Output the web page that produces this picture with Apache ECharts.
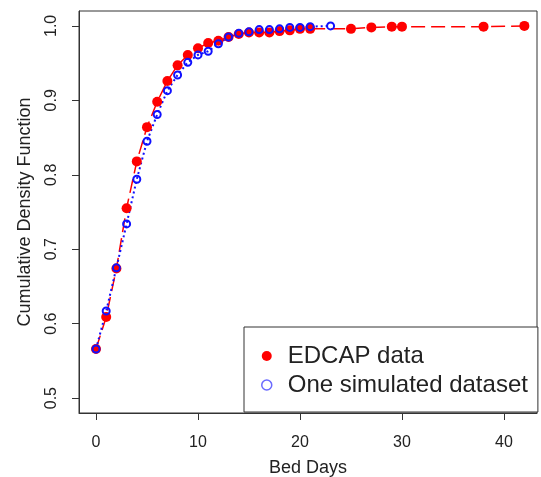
<!DOCTYPE html>
<html><head><meta charset="utf-8">
<script src="https://cdn.jsdelivr.net/npm/echarts@6/dist/echarts.min.js"></script>
<style>html,body{margin:0;padding:0;background:#fff}#c{width:541px;height:477px}</style>
</head><body><div id="c"></div>
<script>
const edcapX = [0,1,2,3,4,5,6,7,8,9,10,11,12,13,14,15,16,17,18,19,20,21,25,27,29,30,38,42];
const edcapY = [0.566,0.609,0.674,0.755,0.818,0.864,0.898,0.926,0.947,0.961,0.970,0.977,0.980,0.985,0.989,0.991,0.991,0.991,0.993,0.994,0.996,0.996,0.996,0.998,0.999,0.999,0.999,1.0];
const simX = [0,1,2,3,4,5,6,7,8,9,10,11,12,13,14,15,16,17,18,19,20,21,23];
const simY = [0.566,0.617,0.675,0.734,0.794,0.845,0.881,0.913,0.934,0.951,0.961,0.966,0.976,0.985,0.990,0.992,0.995,0.995,0.996,0.998,0.998,0.999,1.0];
const xTicks = [0,10,20,30,40];
const yTicks = [0.5,0.6,0.7,0.8,0.9,1.0];
const seriesNames = ['EDCAP data','One simulated dataset'];

const font = '"Liberation Sans", Arial, Helvetica, sans-serif';
const chart = echarts.init(document.getElementById('c'), null, {renderer:'canvas'});
chart.setOption({
  animation:false,
  backgroundColor:'#fff',
  grid:{left:79, right:4, top:11, bottom:64, show:true, borderColor:'#333', borderWidth:1,
    backgroundColor:'transparent', outerBoundsMode:'none', containLabel:false},
  xAxis:{
    type:'value', min:-1.667, max:43.24,
    splitLine:{show:false}, axisLine:{show:true, onZero:false, lineStyle:{color:'#333', width:1}},
    axisTick:{show:true, inside:false, length:7, lineStyle:{color:'#333', width:1}, customValues:xTicks},
    axisLabel:{customValues:xTicks, fontSize:16, color:'#222', margin:22, fontFamily:font},
    name:'Bed Days', nameLocation:'middle', nameGap:46,
    nameTextStyle:{fontSize:18, color:'#222', fontFamily:font}
  },
  yAxis:{
    type:'value', min:0.48, max:1.02,
    splitLine:{show:false}, axisLine:{show:true, onZero:false, lineStyle:{color:'#333', width:1}},
    axisTick:{show:true, inside:false, length:7, lineStyle:{color:'#333', width:1}, customValues:yTicks},
    axisLabel:{customValues:yTicks, rotate:90, fontSize:16, color:'#222', margin:19, fontFamily:font,
      formatter:v=>Number(v).toFixed(1)},
    name:'Cumulative Density Function', nameLocation:'middle', nameGap:45,
    nameTextStyle:{fontSize:18, color:'#222', fontFamily:font}
  },
  legend:{
    orient:'vertical', left:244, top:327, padding:[17,10,15,17], itemGap:5,
    itemWidth:10, itemHeight:10, borderColor:'#333', borderWidth:1, backgroundColor:'#fff',
    textStyle:{fontSize:24, color:'#222', fontFamily:font, padding:[0,0,0,11]},
    data:[
      {name:seriesNames[0], icon:'circle', itemStyle:{color:'#ff0000', borderWidth:0}},
      {name:seriesNames[1], icon:'circle', itemStyle:{color:'rgba(0,0,0,0)', borderColor:'#6a6aff', borderWidth:1.5}}
    ]
  },
  series:[
    {
      name:seriesNames[0], type:'line', data:edcapX.map((x,i)=>[x,edcapY[i]]),
      symbol:'circle', symbolSize:10, showAllSymbol:true,
      itemStyle:{color:'#ff0000'},
      lineStyle:{color:'#ff0000', width:1.5, type:[14,6]}
    },
    {
      name:seriesNames[1], type:'line', data:simX.map((x,i)=>[x,simY[i]]),
      symbol:'circle', symbolSize:7, showAllSymbol:true,
      itemStyle:{color:'rgba(0,0,0,0)', borderColor:'#1010ff', borderWidth:2},
      lineStyle:{color:'#1010ff', width:2, type:[2,3]}
    }
  ]
});
</script></body></html>
